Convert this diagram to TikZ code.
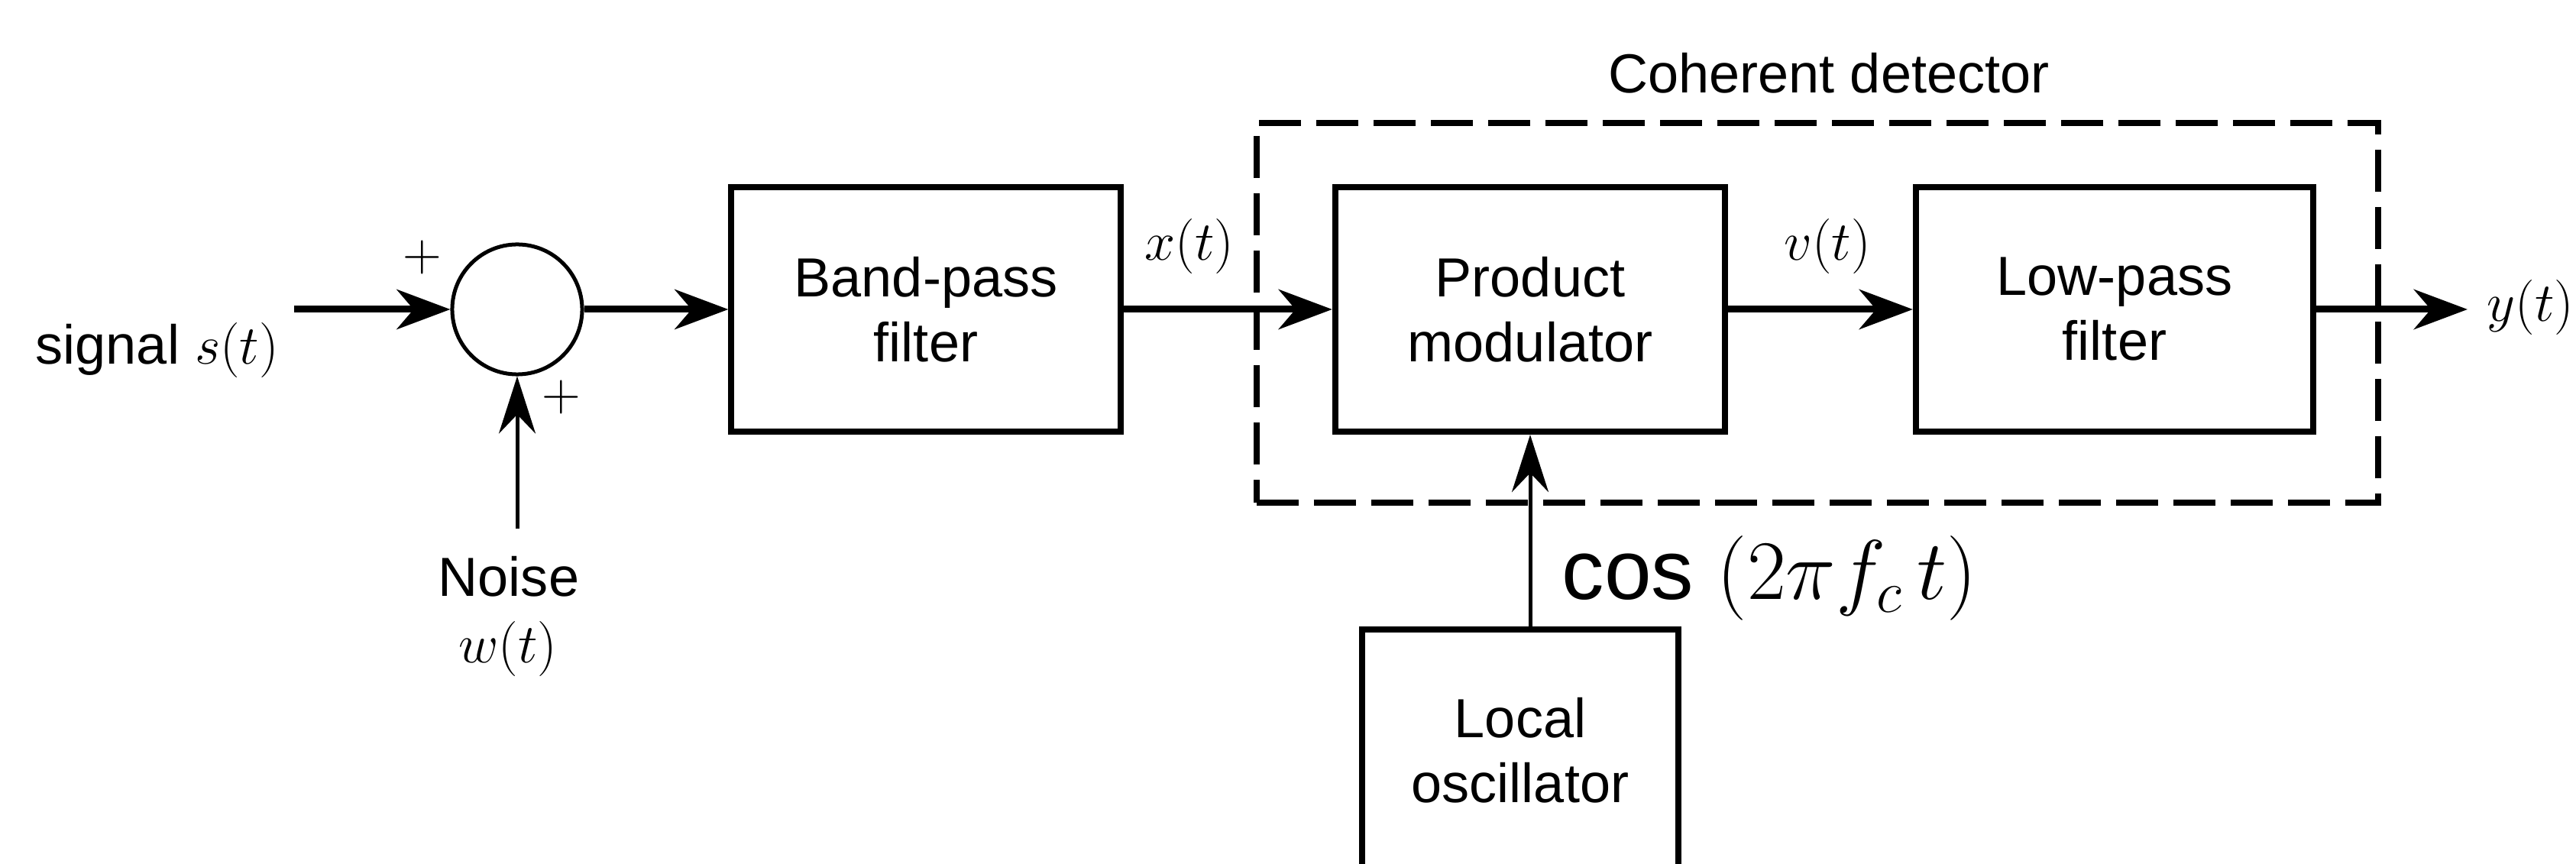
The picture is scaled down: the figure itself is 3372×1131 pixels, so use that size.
\RequirePackage{fix-cm}
\documentclass[tikz,border=0pt]{standalone}
\usepackage[no-math]{fontspec}
\setmainfont{Liberation Sans}
\usetikzlibrary{arrows.meta,calc}
\tikzset{
  blk/.style={draw, line width=0.08cm, minimum width=5.1cm, minimum height=3.2cm, align=center, inner sep=0pt, font=\fontsize{20.5}{24.2}\selectfont},
  lbl/.style={inner sep=0pt, font=\fontsize{20.5}{24.2}\selectfont},
  plussign/.style={inner sep=0pt, font=\fontsize{20}{24}\selectfont},
  sig/.style={line width=0.09cm, -{Stealth[length=0.7cm,width=0.52cm,inset=0.22cm]}},
  thinarr/.style={line width=0.05cm, -{Stealth[length=0.75cm,width=0.48cm,inset=0.25cm]}},
  dbox/.style={draw, line width=0.08cm, dash pattern=on 0.55cm off 0.2cm, minimum width=14.68cm, minimum height=4.97cm, inner sep=0pt},
}
\begin{document}
\begin{tikzpicture}[x=0.01cm,y=-0.01cm]
\useasboundingbox (0,0) rectangle (3372,1131);
\fill[white] (0,0) rectangle (3372,1131);
\clip (0,0) rectangle (3372,1131);
\node[circle, draw, line width=0.05cm, minimum size=1.7cm, inner sep=0pt] (sum) at (677,405) {};
\node[blk, minimum width=5.09cm] (bpf) at (1212,405) {Band-pass\\filter};
\node[blk, minimum width=5.1cm] (pm) at (2003,405) {Product\\modulator};
\node[blk, minimum width=5.2cm] (lpf) at (2768,405) {Low-pass\\filter};
\node[blk, minimum width=4.14cm, minimum height=3.16cm] (lo) at (1990,982) {Local\\oscillator};
\node[dbox] (det) at (2379,409.5) {};
\node[lbl, anchor=base] (dettxt) at (2394,122) {Coherent detector};
\coordinate (in) at (385,405);
\coordinate (out) at (3230,405);
\coordinate (nz) at (677,692);
\node[lbl, anchor=base west] (sigtxt) at (46,477) {signal $s(t)$};
\node[lbl, anchor=base] (noisetxt) at (666,781) {Noise};
\node[lbl, anchor=base] (wtxt) at (665,867) {$w(t)$};
\node[plussign] (p1) at (553,337) {$+$};
\node[plussign] (p2) at (735,520) {$+$};
\node[lbl, anchor=base] (xtxt) at (1557,341) {$x(t)$};
\node[lbl, anchor=base] (vtxt) at (2392,341) {$v(t)$};
\node[lbl, anchor=base west] (ytxt) at (3255,421) {$y(t)$};
\node[lbl, anchor=base west, font=\fontsize{31.5}{38}\selectfont] (cos) at (2044,785) {cos $(2\pi f_c\, t)$};
\draw[sig] (in) -- (sum);
\draw[sig] (sum) -- (bpf);
\draw[sig] (bpf) -- (pm);
\draw[sig] (pm) -- (lpf);
\draw[sig] (lpf) -- (out);
\draw[thinarr] (nz) -- (sum);
\draw[thinarr] (lo.north -| pm.south) -- (pm.south);
\end{tikzpicture}
\end{document}
